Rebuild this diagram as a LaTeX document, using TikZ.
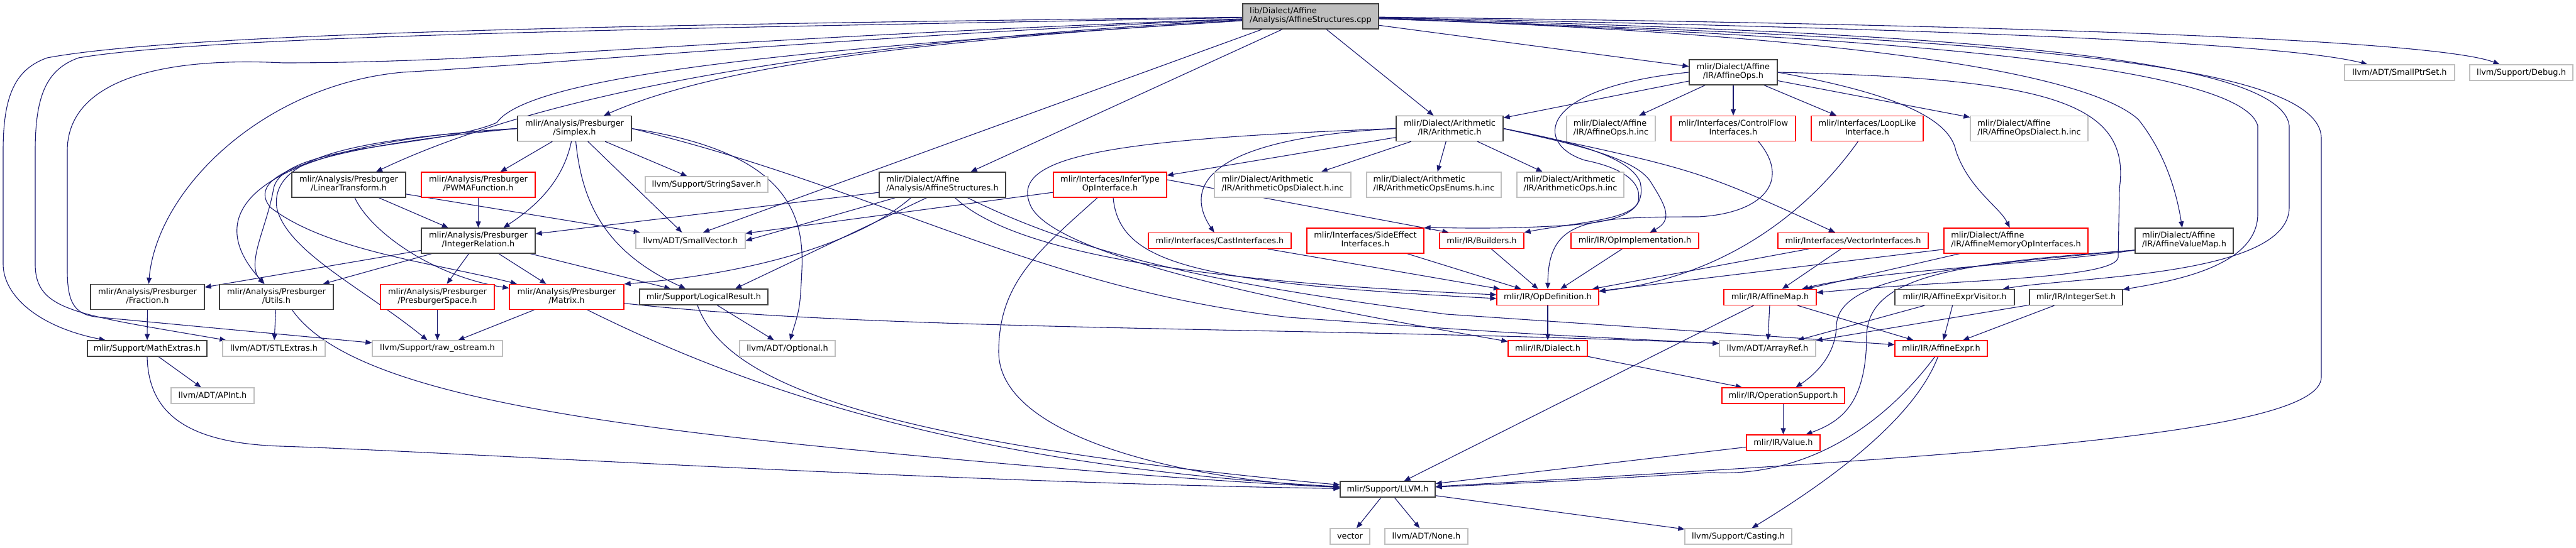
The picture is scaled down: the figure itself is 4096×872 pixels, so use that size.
\documentclass[tikz,border=0pt]{standalone}
\usepackage{fontspec}
\setmainfont{DejaVu Sans}
\usetikzlibrary{arrows.meta}
\definecolor{edgeblue}{rgb}{0.1,0.1,0.44}
\definecolor{boxdark}{rgb}{0.25,0.25,0.25}
\definecolor{boxlight}{rgb}{0.75,0.75,0.75}
\definecolor{boxred}{rgb}{1,0,0}
\definecolor{rootgray}{rgb}{0.75,0.75,0.75}
\def\boxedge{1.3pt}
\newcommand{\hdrfont}{\fontsize{12.9}{14}\selectfont}
\newcommand{\twol}[2]{\begin{tabular}{@{}l@{}}#1\\\multicolumn{1}{@{}c@{}}{#2}\end{tabular}}
\pgfdeclarelayer{background}
\pgfsetlayers{background,main}

\begin{document}
\begin{tikzpicture}[x=1pt, y=-1pt,
  hdr/.style={rectangle, inner sep=0pt, line width=\boxedge, fill=white, font=\hdrfont, minimum height=25pt},
  known/.style={hdr, draw=boxdark},
  extern/.style={hdr, draw=boxlight},
  trunc/.style={hdr, draw=boxred},
  tall/.style={minimum height=40pt},
  inc/.style={draw=edgeblue, line width=1.1pt, -{Triangle[length=10pt,width=8pt]}}]
\useasboundingbox (0,0) rectangle (4096,872);

        \node[known, tall, fill=rootgray, minimum width=216pt] (root) at (2084,26) {\twol{lib/Dialect/Affine}{/Analysis/AffineStructures.cpp}};

        \node[known, tall, minimum width=140pt] (affops) at (2756,115) {\twol{mlir/Dialect/Affine}{/IR/AffineOps.h}};
        \node[extern, minimum width=175pt] (smallptr) at (3815.5,115.5) {llvm/ADT/SmallPtrSet.h};
        \node[extern, minimum width=164pt] (debug) at (4009,115.5) {llvm/Support/Debug.h};

        \node[known, tall, minimum width=181pt] (simplex) at (913.5,204.5) {\twol{mlir/Analysis/Presburger}{/Simplex.h}};
        \node[known, tall, minimum width=170pt] (arith) at (2305,204.5) {\twol{mlir/Dialect/Arithmetic}{/IR/Arithmetic.h}};
        \node[extern, tall, minimum width=141pt] (affopsinc) at (2561.5,204.5) {\twol{mlir/Dialect/Affine}{/IR/AffineOps.h.inc}};
        \node[trunc, tall, minimum width=198pt] (ctrlflow) at (2756,204.5) {\twol{mlir/Interfaces/ControlFlow}{Interfaces.h}};
        \node[trunc, tall, minimum width=178pt] (looplike) at (2969,204.5) {\twol{mlir/Interfaces/LoopLike}{Interface.h}};
        \node[extern, tall, minimum width=187pt] (affdialinc) at (3226.5,204.5) {\twol{mlir/Dialect/Affine}{/IR/AffineOpsDialect.h.inc}};

        \node[known, tall, minimum width=181pt] (lintr) at (554.5,294) {\twol{mlir/Analysis/Presburger}{/LinearTransform.h}};
        \node[trunc, tall, minimum width=181pt] (pwma) at (760.5,294) {\twol{mlir/Analysis/Presburger}{/PWMAFunction.h}};
        \node[extern, minimum width=195pt] (strsaver) at (1123.5,293.5) {llvm/Support/StringSaver.h};
        \node[known, tall, minimum width=201pt] (affstruct) at (1498.5,294) {\twol{mlir/Dialect/Affine}{/Analysis/AffineStructures.h}};
        \node[trunc, tall, minimum width=180pt] (infertype) at (1765,294) {\twol{mlir/Interfaces/InferType}{OpInterface.h}};
        \node[extern, tall, minimum width=217pt] (arithdialinc) at (2039.5,294) {\twol{mlir/Dialect/Arithmetic}{/IR/ArithmeticOpsDialect.h.inc}};
        \node[extern, tall, minimum width=214pt] (arithenums) at (2280,294) {\twol{mlir/Dialect/Arithmetic}{/IR/ArithmeticOpsEnums.h.inc}};
        \node[extern, tall, minimum width=170pt] (arithopsinc) at (2497,294) {\twol{mlir/Dialect/Arithmetic}{/IR/ArithmeticOps.h.inc}};

        \node[known, tall, minimum width=181pt] (intrel) at (760.5,383) {\twol{mlir/Analysis/Presburger}{/IntegerRelation.h}};
        \node[extern, minimum width=174pt] (smallvec) at (1098,383) {llvm/ADT/SmallVector.h};
        \node[trunc, minimum width=227pt] (castif) at (1939.5,383) {mlir/Interfaces/CastInterfaces.h};
        \node[trunc, tall, minimum width=186pt] (sideeff) at (2171,383) {\twol{mlir/Interfaces/SideEffect}{Interfaces.h}};
        \node[trunc, minimum width=134pt] (builders) at (2356,383) {mlir/IR/Builders.h};
        \node[trunc, minimum width=203pt] (opimpl) at (2599.5,383) {mlir/IR/OpImplementation.h};
        \node[trunc, minimum width=239pt] (vectorif) at (2946.5,383) {mlir/Interfaces/VectorInterfaces.h};
        \node[trunc, tall, minimum width=229pt] (affmemop) at (3205.5,383) {\twol{mlir/Dialect/Affine}{/IR/AffineMemoryOpInterfaces.h}};
        \node[known, tall, minimum width=156pt] (avm) at (3473,383) {\twol{mlir/Dialect/Affine}{/IR/AffineValueMap.h}};

        \node[known, tall, minimum width=181pt] (fraction) at (234.5,472.5) {\twol{mlir/Analysis/Presburger}{/Fraction.h}};
        \node[known, tall, minimum width=181pt] (utils) at (439.5,472.5) {\twol{mlir/Analysis/Presburger}{/Utils.h}};
        \node[trunc, tall, minimum width=181pt] (presspace) at (695.5,472.5) {\twol{mlir/Analysis/Presburger}{/PresburgerSpace.h}};
        \node[trunc, tall, minimum width=182pt] (matrix) at (901,472.5) {\twol{mlir/Analysis/Presburger}{/Matrix.h}};
        \node[known, minimum width=204pt] (logres) at (1119,472.5) {mlir/Support/LogicalResult.h};
        \node[trunc, minimum width=162pt] (opdef) at (2461,473) {mlir/IR/OpDefinition.h};
        \node[trunc, minimum width=147pt] (affmap) at (2814.5,473) {mlir/IR/AffineMap.h};
        \node[known, minimum width=190pt] (aev) at (3108,473) {mlir/IR/AffineExprVisitor.h};
        \node[known, minimum width=148pt] (intset) at (3301,473) {mlir/IR/IntegerSet.h};

        \node[known, minimum width=190pt] (mathex) at (234,554.5) {mlir/Support/MathExtras.h};
        \node[extern, minimum width=163pt] (stlex) at (435.5,554.5) {llvm/ADT/STLExtras.h};
        \node[extern, minimum width=207pt] (rawos) at (695.5,554.5) {llvm/Support/raw\_ostream.h};
        \node[extern, minimum width=152pt] (optional) at (1252,554.5) {llvm/ADT/Optional.h};
        \node[trunc, minimum width=126pt] (dialect) at (2461,554.5) {mlir/IR/Dialect.h};
        \node[extern, minimum width=153pt] (arrayref) at (2810.5,554.5) {llvm/ADT/ArrayRef.h};
        \node[trunc, minimum width=147pt] (affexpr) at (3086.5,554.5) {mlir/IR/AffineExpr.h};

        \node[extern, minimum width=132pt] (apint) at (338,629.5) {llvm/ADT/APInt.h};
        \node[trunc, minimum width=195pt] (opsupport) at (2835.5,629.5) {mlir/IR/OperationSupport.h};
        \node[trunc, minimum width=117pt] (value) at (2835.5,704.5) {mlir/IR/Value.h};
        \node[known, minimum width=151pt] (llvmh) at (2206.5,778.5) {mlir/Support/LLVM.h};
        \node[extern, minimum width=63pt] (vec) at (2146.5,853.5) {vector};
        \node[extern, minimum width=132pt] (none) at (2268,853.5) {llvm/ADT/None.h};
        \node[extern, minimum width=170pt] (casting) at (2764,853.5) {llvm/Support/Casting.h};

\begin{pgfonlayer}{background}
        % includes of the .cpp file
        \draw[inc] (root) .. controls (1100,38) and (300,50) .. (75,92) .. controls (25,110) and (5,150) .. (5,240) -- (5,420) .. controls (5,470) and (60,520) .. (mathex);
        \draw[inc] (root) .. controls (1100,45) and (350,55) .. (125,92) .. controls (75,110) and (56,150) .. (56,240) -- (56,420) .. controls (56,495) and (120,500) .. (stlex);
        \draw[inc] (root) .. controls (1150,60) and (800,100) .. (450,100) .. controls (250,90) and (107,130) .. (107,240) -- (107,430) .. controls (107,485) and (120,502) .. (160,505) -- ([yshift=9pt]rawos.west);
        \draw[inc] (root) .. controls (1400,55) and (900,100) .. (640,115) .. controls (420,135) and (250,300) .. (fraction);
        \draw[inc] (root) .. controls (1400,62) and (900,130) .. (lintr);
        \draw[inc] (root) .. controls (1500,62) and (1150,100) .. (simplex);
        \draw[inc] (root) .. controls (1400,70) and (850,110) .. (790,195) .. controls (700,235) and (450,228) .. (435,300) .. controls (425,360) and (390,420) .. (utils);
        \draw[inc] ([xshift=-77pt]root.south) -- ([xshift=20pt]smallvec.north);
        \draw[inc] (root) -- (affstruct);
        \draw[inc] ([xshift=25pt]root.south) -- (arith);
        \draw[inc] (root) -- (affops);
        \draw[inc] (root) .. controls (2800,50) and (3300,100) .. (3400,190) .. controls (3440,240) and (3460,300) .. (avm);
        \draw[inc] (root) .. controls (2900,55) and (3560,95) .. (3590,200) -- (3590,340) .. controls (3590,420) and (3470,445) .. (intset);
        \draw[inc] (root) .. controls (3000,50) and (3625,80) .. (3640,200) -- (3640,330) .. controls (3640,440) and (3300,440) .. (aev);
        \draw[inc] (root) .. controls (3100,60) and (3690,90) .. (3691,220) -- (3691,600) .. controls (3691,690) and (3150,725) .. (llvmh);
        \draw[inc] (root) .. controls (2800,40) and (3600,60) .. (smallptr);
        \draw[inc] (root) .. controls (2900,35) and (3850,55) .. (debug);

        \draw[inc] (simplex) -- (pwma);
        \draw[inc] ([xshift=-5pt]simplex.south) .. controls (895,290) and (850,330) .. ([xshift=40pt]intrel.north);
        \draw[inc] (simplex) -- (smallvec);
        \draw[inc] (simplex) -- (strsaver);
        \draw[inc] (simplex.west) .. controls (450,225) and (300,320) .. (utils);
        \draw[inc] (simplex.west) .. controls (550,230) and (380,270) .. (430,330) .. controls (520,400) and (700,420) .. (matrix);
        \draw[inc] (simplex.west) .. controls (560,222) and (430,250) .. (440,330) .. controls (455,400) and (580,460) .. (rawos);
        \draw[inc] (simplex) .. controls (925,320) and (960,400) .. (logres);
        \draw[inc] (simplex.east) .. controls (1240,240) and (1280,330) .. (1275,430) .. controls (1272,490) .. (optional);
        \draw[inc] (simplex.east) .. controls (1400,300) and (1650,460) .. (2050,505) .. controls (2400,530) .. ([yshift=8pt]arrayref.west);

        \draw[inc] (lintr) -- (intrel);
        \draw[inc] (lintr) .. controls (590,370) and (690,440) .. (matrix);
        \draw[inc] (lintr) -- (smallvec);
        \draw[inc] (pwma) -- (intrel);

        \draw[inc] (intrel) -- (fraction);
        \draw[inc] (intrel) -- (utils);
        \draw[inc] (intrel) -- (presspace);
        \draw[inc] (intrel) -- (matrix);
        \draw[inc] (intrel) -- (logres);

        \draw[inc] (affstruct) -- (intrel);
        \draw[inc] ([xshift=-75pt]affstruct.south) -- (smallvec.east);
        \draw[inc] ([xshift=-50pt]affstruct.south) .. controls (1350,400) and (1150,440) .. (matrix.north east);
        \draw[inc] ([xshift=-25pt]affstruct.south) -- ([xshift=50pt]logres.north);
        \draw[inc] ([xshift=20pt]affstruct.south) .. controls (1620,410) and (1950,450) .. ([yshift=4pt]opdef.west);
        \draw[inc] ([xshift=40pt]affstruct.south) .. controls (1750,420) and (2000,460) .. (2300,500) -- ([yshift=6pt]affexpr.west);

        \draw[inc] (infertype) -- (smallvec);
        \draw[inc] ([yshift=8pt]infertype.east) -- ([xshift=15pt]builders.north west);
        \draw[inc] ([xshift=5pt]infertype.south) .. controls (1780,420) and (1900,450) .. ([yshift=-2pt]opdef.west);
        \draw[inc] ([xshift=-20pt]infertype.south) .. controls (1650,400) and (1588,450) .. (1588,560) .. controls (1588,700) and (1900,765) .. (llvmh);

        \draw[inc] (arith) -- (arithdialinc);
        \draw[inc] (arith) -- (arithenums);
        \draw[inc] (arith) -- (arithopsinc);
        \draw[inc] (arith) -- (infertype);
        \draw[inc] (arith.west) .. controls (1890,222) and (1890,310) .. (castif);
        \draw[inc] (arith.west) .. controls (1750,222) and (1600,250) .. (1640,330) .. controls (1690,420) and (2150,500) .. (dialect);
        \draw[inc] (arith.east) .. controls (2480,222) and (2590,245) .. (2608,290) .. controls (2618,335) and (2580,352) .. (2500,358) .. controls (2380,366) and (2300,362) .. (sideeff.north east);
        \draw[inc] (arith.east) .. controls (2480,225) and (2600,248) .. (2625,290) .. controls (2650,330) and (2660,350) .. (opimpl);
        \draw[inc] (arith.east) .. controls (2700,270) .. (vectorif);

        \draw[inc] (affops) -- (affopsinc);
        \draw[inc] (affops) -- (ctrlflow);
        \draw[inc] (affops) -- (looplike);
        \draw[inc] (affops) -- (affdialinc);
        \draw[inc] (affops) -- (arith);
        \draw[inc] (affops.east) .. controls (3020,150) and (3100,190) .. (3110,240) .. controls (3130,300) and (3180,330) .. (affmemop);
        \draw[inc] (affops.west) .. controls (2440,140) and (2440,230) .. (2520,255) .. controls (2570,265) and (2612,285) .. (2605,320) .. controls (2598,350) and (2500,355) .. (builders.north east);
        \draw[inc] (affops.east) .. controls (3250,125) and (3390,160) .. (3370,300) -- (3368,410) .. controls (3360,445) and (3100,445) .. (affmap);

        \draw[inc] ([xshift=40pt]ctrlflow.south) .. controls (2850,290) and (2800,340) .. (2700,345) .. controls (2520,345) and (2462,350) .. (opdef.north);
        \draw[inc] (looplike) .. controls (2880,330) and (2750,440) .. (opdef);
        \draw[inc] (vectorif) -- (affmap);
        \draw[inc] (vectorif) -- (opdef);
        \draw[inc] (affmemop) -- (opdef);
        \draw[inc] (affmemop) -- (affmap);
        \draw[inc] (castif) -- (opdef);
        \draw[inc] (sideeff) -- (opdef);
        \draw[inc] (builders) -- (opdef);
        \draw[inc] (opimpl) -- (opdef);
        \draw[inc] (opdef) -- (dialect);
        \draw[inc] (dialect) -- (opsupport);
        \draw[inc] (opsupport) -- (value);
        \draw[inc] (value) -- (llvmh);

        \draw[inc] ([yshift=-15pt]avm.west) .. controls (3250,420) and (2980,430) .. (affmap);
        \draw[inc] ([yshift=-15pt]avm.west) .. controls (3100,425) and (2920,440) .. (2920,520) .. controls (2918,570) and (2880,600) .. (opsupport);
        \draw[inc] ([yshift=-15pt]avm.west) .. controls (3100,420) and (2965,440) .. (2968,540) .. controls (2966,640) and (2930,670) .. (value);

        \draw[inc] (affmap) -- (arrayref);
        \draw[inc] (affmap) -- (affexpr);
        \draw[inc] (affmap) -- (llvmh);
        \draw[inc] (aev) -- (arrayref);
        \draw[inc] (aev) -- (affexpr);
        \draw[inc] (intset) -- (arrayref);
        \draw[inc] (intset) -- (affexpr);
        \draw[inc] ([xshift=-10pt]affexpr.south) .. controls (3000,670) and (2880,760) .. (2720,752) .. controls (2500,765) .. (llvmh);
        \draw[inc] (affexpr) .. controls (3050,650) and (2950,740) .. (casting);
        \draw[inc] (llvmh) -- (vec);
        \draw[inc] (llvmh) -- (none);
        \draw[inc] (llvmh) -- (casting);

        \draw[inc] (matrix) -- (rawos);
        \draw[inc] ([xshift=33pt]matrix.south) .. controls (1150,600) and (1500,740) .. (llvmh);
        \draw[inc] (matrix) .. controls (1400,528) and (2100,520) .. ([yshift=8pt]arrayref.west);
        \draw[inc] (utils) -- (stlex);
        \draw[inc] ([xshift=25pt]utils.south) .. controls (540,600) and (800,660) .. (1300,710) .. controls (1700,750) and (2000,770) .. (llvmh);
        \draw[inc] (fraction) -- (mathex);
        \draw[inc] (mathex) -- (apint);
        \draw[inc] (mathex.south) .. controls (236,660) and (300,705) .. (446,710) .. controls (700,718) and (1500,768) .. (llvmh);
        \draw[inc] (logres) -- (optional);
        \draw[inc] ([xshift=-10pt]logres.south) .. controls (1150,600) and (1350,700) .. (llvmh);
        \draw[inc] (presspace) -- (rawos);
\end{pgfonlayer}
\end{tikzpicture}
\end{document}
